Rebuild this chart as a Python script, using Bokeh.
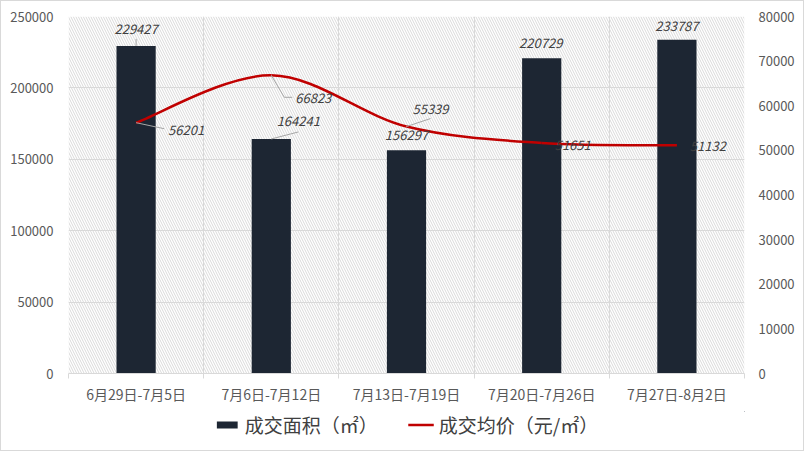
import numpy as np
from bokeh.plotting import figure
from bokeh.layouts import column
from bokeh.models import (Range1d, LinearAxis, FixedTicker, Legend, LegendItem,
                          BoxAnnotation, BasicTickFormatter)
from bokeh.embed import file_html
from bokeh.resources import INLINE
from bokeh.core.properties import value

# ---------------- data ----------------
categories = ["6月29日-7月5日", "7月6日-7月12日", "7月13日-7月19日",
              "7月20日-7月26日", "7月27日-8月2日"]
area = [229427, 164241, 156297, 220729, 233787]       # 成交面积（㎡）
price = [56201, 66823, 55339, 51651, 51132]           # 成交均价（元/㎡）
area_ticks = [0, 50000, 100000, 150000, 200000, 250000]
price_ticks = [0, 10000, 20000, 30000, 40000, 50000, 60000, 70000, 80000]
series_names = ["成交面积（㎡）", "成交均价（元/㎡）"]

# ---------------- style ----------------
FONT = "Noto Sans CJK SC"
W, H = 802, 449
PH = 410
LEG_H = H - PH
ML, MR, MT, MB = 67, 59, 15, 38
FW, FH = W - ML - MR, PH - MT - MB
NC = len(categories)
AREA_MAX, PRICE_MAX = area_ticks[-1], price_ticks[-1]
BAR_COLOR = "#1d2633"
LINE_COLOR = "#c00000"
GRID = "#d9d9d9"
LBL = "#404040"
LEADER = "#a6a6a6"

# label offsets in screen px (dx right, dy up) relative to anchors
bar_lbl_off = [(0, 17), (27, 18), (0, 15), (-1, 15), (0, 14)]
line_lbl_off = [(50, -7), (42, -23), (24, 18), (31, -2), (31, -1)]
bar_leaders = {0: [(0, 0), (0, 7)], 1: [(0, 0), (27, 7)]}
line_leaders = {0: [(0, 0), (28, -6)], 1: [(0, 0), (13, -22), (21, -22)],
                2: [(0, 0), (24, 8)]}

pxx = FW / NC
pxa = FH / AREA_MAX
pxp = FH / PRICE_MAX

p = figure(width=W, height=PH, x_range=Range1d(0, NC), y_range=Range1d(0, AREA_MAX),
           output_backend="svg", toolbar_location=None,
           min_border_left=ML, min_border_right=MR, min_border_top=MT,
           min_border_bottom=MB)
p.extra_y_ranges = {"price": Range1d(0, PRICE_MAX)}
p.outline_line_color = None
p.background_fill_color = "white"
p.border_fill_color = "white"

# hatched plot-area background
bg = BoxAnnotation(left=0, right=NC, bottom=0, top=AREA_MAX, fill_color="white",
                   fill_alpha=1, line_color=None, hatch_pattern="\\",
                   hatch_color="#d9d9d9", hatch_scale=5, hatch_weight=1,
                   level="image")
p.add_layout(bg)

xs = np.arange(NC) + 0.5

# grids
p.xgrid.ticker = FixedTicker(ticks=list(range(NC + 1)))
p.ygrid.ticker = FixedTicker(ticks=area_ticks)
p.xgrid.grid_line_color = GRID
p.ygrid.grid_line_color = GRID

# x axis
xa = p.xaxis[0]
xa.ticker = FixedTicker(ticks=list(xs), minor_ticks=list(range(NC + 1)))
xa.major_label_overrides = {float(x): c for x, c in zip(xs, categories)}
xa.major_tick_line_color = None
xa.major_tick_out = 0
xa.minor_tick_in = 0
xa.minor_tick_out = 5
xa.minor_tick_line_color = GRID
xa.axis_line_color = GRID
xa.major_label_text_font = FONT
xa.major_label_text_font_size = "14px"
xa.major_label_text_color = "#595959"
xa.major_label_standoff = 5

# left axis
ya = p.yaxis[0]
ya.ticker = FixedTicker(ticks=area_ticks)
ya.formatter = BasicTickFormatter(use_scientific=False)
ya.axis_line_color = None
ya.major_tick_line_color = None
ya.minor_tick_line_color = None
ya.major_tick_out = 0
ya.major_label_standoff = 15
ya.major_label_text_font = FONT
ya.major_label_text_font_size = "13px"
ya.major_label_text_color = "#595959"

# right axis
ra = LinearAxis(y_range_name="price", ticker=FixedTicker(ticks=price_ticks),
                formatter=BasicTickFormatter(use_scientific=False))
ra.axis_line_color = None
ra.major_tick_line_color = None
ra.minor_tick_line_color = None
ra.major_tick_out = 0
ra.major_label_standoff = 14
ra.major_label_text_font = FONT
ra.major_label_text_font_size = "13px"
ra.major_label_text_color = "#595959"
p.add_layout(ra, "right")

# bars
bars = p.vbar(x=xs, top=area, width=0.29, fill_color=BAR_COLOR, line_color=None)

# smooth line (Catmull-Rom -> cubic Bezier)
P = np.column_stack([xs, np.array(price, dtype=float)])
seg = {k: [] for k in ["x0", "y0", "x1", "y1", "cx0", "cy0", "cx1", "cy1"]}
for i in range(NC - 1):
    p0 = P[max(i - 1, 0)]; p1 = P[i]; p2 = P[i + 1]; p3 = P[min(i + 2, NC - 1)]
    c1 = p1 + (p2 - p0) / 6.0
    c2 = p2 - (p3 - p1) / 6.0
    seg["x0"].append(p1[0]); seg["y0"].append(p1[1])
    seg["x1"].append(p2[0]); seg["y1"].append(p2[1])
    seg["cx0"].append(c1[0]); seg["cy0"].append(c1[1])
    seg["cx1"].append(c2[0]); seg["cy1"].append(c2[1])
p.bezier(**seg, line_color=LINE_COLOR, line_width=2.5, y_range_name="price")

# leader lines
lx, ly = [], []
for i, pts in bar_leaders.items():
    lx.append([xs[i] + dx / pxx for dx, dy in pts])
    ly.append([area[i] + dy / pxa for dx, dy in pts])
p.multi_line(lx, ly, line_color=LEADER, line_width=1)
lx, ly = [], []
for i, pts in line_leaders.items():
    lx.append([xs[i] + dx / pxx for dx, dy in pts])
    ly.append([price[i] + dy / pxp for dx, dy in pts])
p.multi_line(lx, ly, line_color=LEADER, line_width=1, y_range_name="price")

# data labels
common = dict(text_align="center", text_baseline="middle", text_font=value(FONT),
              text_font_size="13px", text_font_style="italic", text_color=LBL)
p.text(x=xs, y=area, text=[str(v) for v in area],
       x_offset=[o[0] for o in bar_lbl_off], y_offset=[-o[1] for o in bar_lbl_off],
       **common)
p.text(x=xs, y=price, text=[str(v) for v in price],
       x_offset=[o[0] for o in line_lbl_off], y_offset=[-o[1] for o in line_lbl_off],
       y_range_name="price", **common)

# legend strip (separate figure so the legend is not clipped); the series are
# drawn there out of view only to provide the legend swatches
lf = figure(width=W, height=LEG_H, x_range=Range1d(-20, -19), y_range=Range1d(-20, -19),
            output_backend="svg", toolbar_location=None,
            x_axis_type=None, y_axis_type=None, min_border=0)
lf.outline_line_color = None
lf.grid.visible = False
lf.border_fill_color = "white"
lf.background_fill_color = "white"
lg_bar = lf.vbar(x=xs, top=area, width=0.29, fill_color=BAR_COLOR, line_color=None)
lg_line = lf.line(x=xs, y=price, line_color=LINE_COLOR, line_width=2.5)
legend = Legend(items=[LegendItem(label=series_names[0], renderers=[lg_bar]),
                       LegendItem(label=series_names[1], renderers=[lg_line])],
                orientation="horizontal", location="top_center",
                label_text_font=FONT, label_text_font_size="19px",
                label_text_color=LBL, glyph_width=26, glyph_height=9,
                label_standoff=5, spacing=30, padding=0, margin=0,
                border_line_color=None, background_fill_alpha=0)
lf.add_layout(legend)

layout = column(p, lf, spacing=0, styles={"border": "1px solid #d9d9d9"})
open("out.html", "w").write(file_html(layout, INLINE))
